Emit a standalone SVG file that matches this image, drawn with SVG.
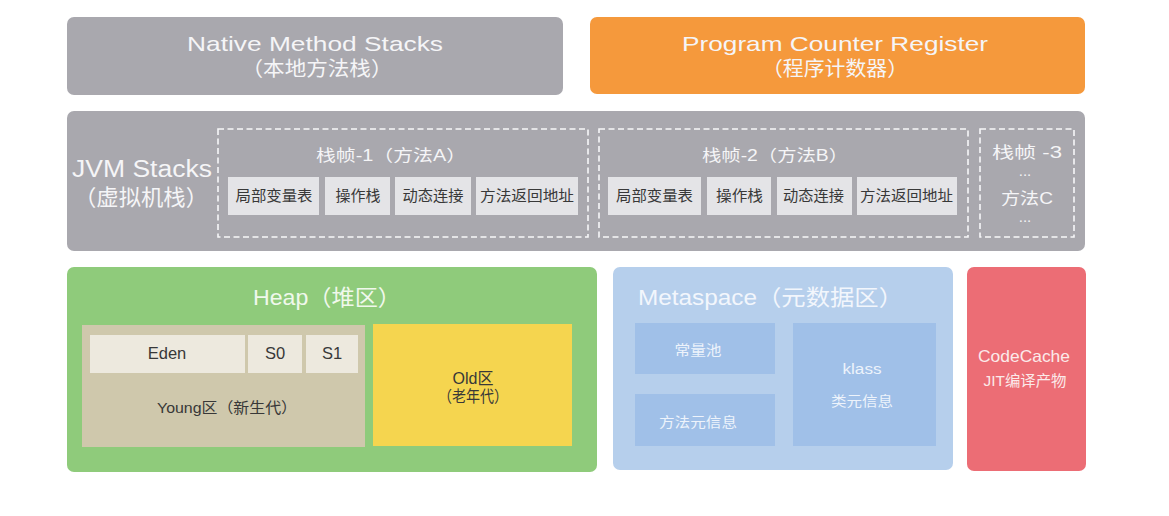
<svg xmlns="http://www.w3.org/2000/svg" width="1169" height="516" viewBox="0 0 1169 516">
<style>
text{font-family:"Liberation Sans","Noto Sans CJK SC",sans-serif;}
.t{fill:#f5f5f7;}
.d{fill:#383838;}
.c{text-anchor:middle;}
.gray{fill:#a9a8ae;}
.inner{fill:#e4e4e7;}
.frame{fill:none;stroke:#f7f7f9;stroke-width:1.6;stroke-dasharray:6 3.5;}
.sub{fill:#a0c0e8;}
.surv{fill:#ede9de;}
</style>
<rect width="1169" height="516" fill="#ffffff"/>
<g id="native-method-stacks">
<rect class="gray" x="67" y="17" width="496" height="78" rx="7"/>
<text class="t c" x="315" y="51" font-size="21" textLength="256" lengthAdjust="spacingAndGlyphs">Native Method Stacks</text>
<text class="t c" x="317" y="76" font-size="20" textLength="151" lengthAdjust="spacingAndGlyphs">（本地方法栈）</text>
</g>
<g id="program-counter-register">
<rect x="590" y="17" width="495" height="77" rx="7" fill="#f5993c"/>
<text class="t c" x="835" y="51" font-size="21" textLength="306" lengthAdjust="spacingAndGlyphs">Program Counter Register</text>
<text class="t c" x="835" y="76" font-size="20" textLength="146" lengthAdjust="spacingAndGlyphs">（程序计数器）</text>
</g>
<g id="jvm-stacks">
<rect class="gray" x="67" y="111" width="1018" height="140" rx="7"/>
<text class="t" x="72" y="177" font-size="23" textLength="140" lengthAdjust="spacingAndGlyphs">JVM Stacks</text>
<text class="t" x="74" y="205" font-size="22" textLength="134" lengthAdjust="spacingAndGlyphs">（虚拟机栈）</text>
</g>
<g id="frame-1">
<rect class="frame" x="218" y="129" width="370" height="108"/>
<text class="t c" x="391" y="161" font-size="16" textLength="150" lengthAdjust="spacingAndGlyphs">栈帧-1（方法A）</text>
<rect class="inner" x="228" y="177" width="91" height="38"/>
<rect class="inner" x="325" y="177" width="65" height="38"/>
<rect class="inner" x="395" y="177" width="76" height="38"/>
<rect class="inner" x="476" y="177" width="102" height="38"/>
<text class="d c" x="274" y="201" font-size="14.5" textLength="77" lengthAdjust="spacingAndGlyphs">局部变量表</text>
<text class="d c" x="358" y="201" font-size="14.5" textLength="45" lengthAdjust="spacingAndGlyphs">操作栈</text>
<text class="d c" x="433" y="201" font-size="14.5" textLength="61" lengthAdjust="spacingAndGlyphs">动态连接</text>
<text class="d c" x="527" y="201" font-size="14.5" textLength="94" lengthAdjust="spacingAndGlyphs">方法返回地址</text>
</g>
<g id="frame-2">
<rect class="frame" x="599" y="129" width="369" height="108"/>
<text class="t c" x="775" y="161" font-size="16" textLength="146" lengthAdjust="spacingAndGlyphs">栈帧-2（方法B）</text>
<rect class="inner" x="608" y="177" width="93" height="38"/>
<rect class="inner" x="707" y="177" width="64" height="38"/>
<rect class="inner" x="777" y="177" width="75" height="38"/>
<rect class="inner" x="857" y="177" width="100" height="38"/>
<text class="d c" x="654.5" y="201" font-size="14.5" textLength="77" lengthAdjust="spacingAndGlyphs">局部变量表</text>
<text class="d c" x="739.5" y="201" font-size="14.5" textLength="47" lengthAdjust="spacingAndGlyphs">操作栈</text>
<text class="d c" x="813.5" y="201" font-size="14.5" textLength="61" lengthAdjust="spacingAndGlyphs">动态连接</text>
<text class="d c" x="906.5" y="201" font-size="14.5" textLength="93" lengthAdjust="spacingAndGlyphs">方法返回地址</text>
</g>
<g id="frame-3">
<rect class="frame" x="980" y="129" width="94" height="108"/>
<text class="t c" x="1027" y="158" font-size="16" textLength="70" lengthAdjust="spacingAndGlyphs">栈帧 -3</text>
<text class="t c" x="1025" y="176" font-size="15">...</text>
<text class="t c" x="1027" y="204" font-size="16" textLength="52" lengthAdjust="spacingAndGlyphs">方法C</text>
<text class="t c" x="1025" y="222" font-size="15">...</text>
</g>
<g id="heap">
<rect x="67" y="267" width="530" height="205" rx="7" fill="#8fcb7b"/>
<text class="c" x="327" y="305" font-size="22" fill="#f0f8ec" textLength="148" lengthAdjust="spacingAndGlyphs">Heap（堆区）</text>
</g>
<g id="young">
<rect x="82" y="325" width="283" height="122" fill="#cfc8ac"/>
<text class="d c" x="227" y="413" font-size="15" textLength="140" lengthAdjust="spacingAndGlyphs">Young区（新生代）</text>
</g>
<g id="eden">
<rect class="surv" x="90" y="335" width="155" height="38"/>
<text class="d c" x="167" y="359" font-size="16.5">Eden</text>
</g>
<g id="s0">
<rect class="surv" x="248" y="335" width="54" height="38"/>
<text class="d c" x="275" y="359" font-size="16.5">S0</text>
</g>
<g id="s1">
<rect class="surv" x="306" y="335" width="52" height="38"/>
<text class="d c" x="332" y="359" font-size="16.5">S1</text>
</g>
<g id="old">
<rect x="373" y="324" width="199" height="122" fill="#f5d54f"/>
<text class="d c" x="473" y="384" font-size="16">Old区</text>
<text class="d c" x="473" y="402" font-size="16" textLength="70" lengthAdjust="spacingAndGlyphs">（老年代）</text>
</g>
<g id="metaspace">
<rect x="613" y="267" width="340" height="203" rx="7" fill="#b6cfec"/>
<text x="638" y="305" font-size="22" fill="#f2f6fc" textLength="265" lengthAdjust="spacingAndGlyphs">Metaspace（元数据区）</text>
</g>
<g id="constant-pool">
<rect class="sub" x="635" y="323" width="140" height="51"/>
<text class="c" x="698" y="355" font-size="14" fill="#edf3fb" textLength="47" lengthAdjust="spacingAndGlyphs">常量池</text>
</g>
<g id="method-meta">
<rect class="sub" x="635" y="394" width="140" height="52"/>
<text class="c" x="698" y="427" font-size="14" fill="#edf3fb" textLength="78" lengthAdjust="spacingAndGlyphs">方法元信息</text>
</g>
<g id="klass">
<rect class="sub" x="793" y="323" width="143" height="123"/>
<text class="c" x="862" y="374" font-size="14" fill="#edf3fb" textLength="39" lengthAdjust="spacingAndGlyphs">klass</text>
<text class="c" x="862" y="406" font-size="14" fill="#edf3fb" textLength="62" lengthAdjust="spacingAndGlyphs">类元信息</text>
</g>
<g id="codecache">
<rect x="967" y="267" width="119" height="204" rx="7" fill="#ec6d75"/>
<text class="c" x="1024" y="362" font-size="16.5" fill="#fbeaea" textLength="92" lengthAdjust="spacingAndGlyphs">CodeCache</text>
<text class="c" x="1025" y="386" font-size="15" fill="#fbeaea" textLength="83" lengthAdjust="spacingAndGlyphs">JIT编译产物</text>
</g>
<g id="connectors"/>
</svg>
